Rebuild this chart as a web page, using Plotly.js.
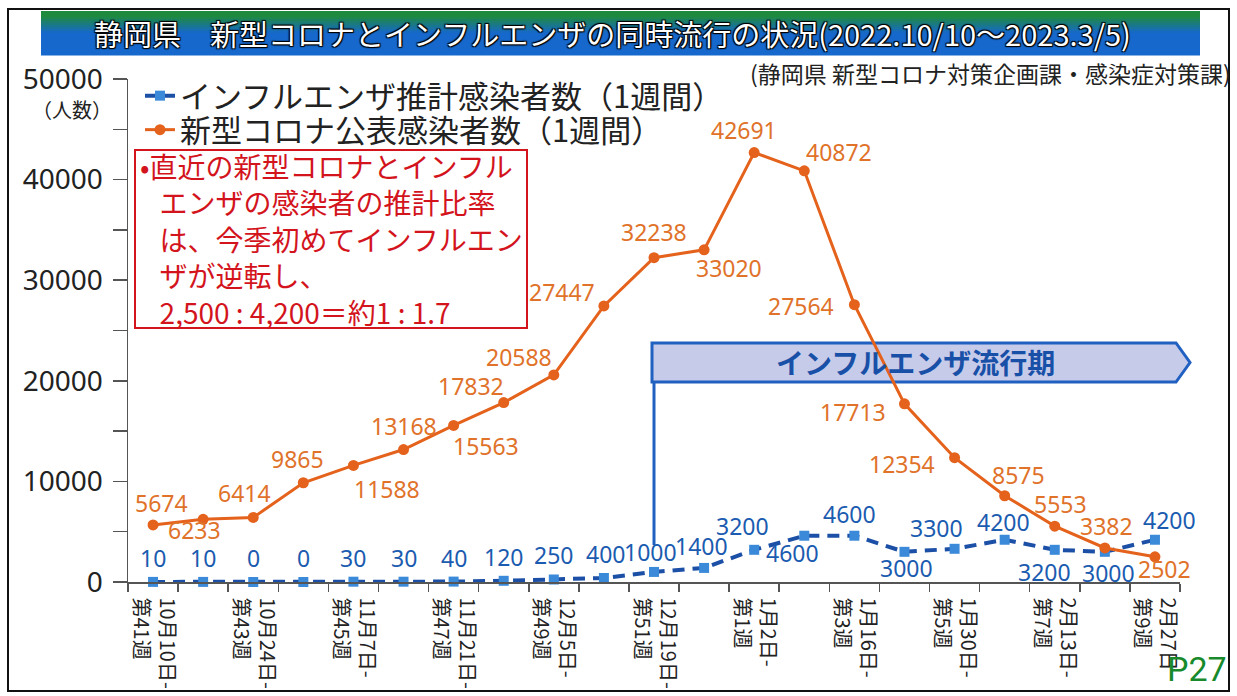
<!DOCTYPE html>
<html><head><meta charset="utf-8">
<script src="https://cdn.plot.ly/plotly-3.0.1.min.js"></script>
<style>html,body{margin:0;padding:0;background:#fff}</style>
</head><body><div id="chart" style="width:1237px;height:696px"></div>
<script>
// ---- data ----
const weeks = ['第41週','第42週','第43週','第44週','第45週','第46週','第47週','第48週','第49週','第50週','第51週','第52週','第1週','第2週','第3週','第4週','第5週','第6週','第7週','第8週','第9週'];
const weekStartDates = ['10月10日','10月17日','10月24日','10月31日','11月7日','11月14日','11月21日','11月28日','12月5日','12月12日','12月19日','12月26日','1月2日','1月9日','1月16日','1月23日','1月30日','2月6日','2月13日','2月20日','2月27日'];
const fluEstimated = [10,10,0,0,30,30,40,120,250,400,1000,1400,3200,4600,4600,3000,3300,4200,3200,3000,4200];
const covidReported = [5674,6233,6414,9865,11588,13168,15563,17832,20588,27447,32238,33020,42691,40872,27564,17713,12354,8575,5553,3382,2502];
const fluName = 'インフルエンザ推計感染者数（1週間）';
const covidName = '新型コロナ公表感染者数（1週間）';
const fluPeriodStartWeek = 10;

// ---- label offsets (style only, px: [dx, dyUp]) ----
const covidLabelOffsets = [[8,22],[-9,-11],[-9,24],[-6,24],[34,-24],[0,24],[32,-21],[-33,17],[-35,18],[-42,14],[0,26],[25,-18],[-10,23],[35,19],[-53,-1],[-51,-8],[-53,-6],[14,21],[6,22],[2,22],[10,-12]];
const fluLabelOffsets = [[0,24],[0,24],[0,24],[0,24],[0,24],[0,24],[0,24],[0,24],[0,24],[2,24],[-4,20],[-3,22],[-12,24],[-12,-17],[-5,22],[2,-16],[-18,21],[-1,18],[-10,-22],[4,-21],[15,20]];

// ---- geometry helpers (pixel -> paper) ----
const L = 128, T = 79, W = 1052, H = 503;
const px = x => (x - L) / W;
const py = y => (T + H - y) / H;

const idx = weeks.map((_, i) => i);
const tickIdx = idx.filter(i => i % 2 === 0);
const tickText = tickIdx.map(i => weekStartDates[i] + (i < weeks.length - 1 ? '-' : '') + '<br>' + weeks[i]);

const FONT = '"Noto Sans CJK JP", "Noto Sans", sans-serif';
const NUMFONT = '"Noto Sans", "Noto Sans CJK JP", sans-serif';
const ORANGE = '#e4621c', ORANGE_T = '#e0722a';
const BLUE_L = '#1c4fa6', BLUE_M = '#3b8ad9', BLUE_T = '#1b5bb0';

const traces = [
  { x: idx, y: fluEstimated, name: fluName, type: 'scatter', mode: 'lines+markers', legend: 'legend',
    line: { color: BLUE_L, width: 4, dash: '12px,8px' },
    marker: { symbol: 'square', size: 10, color: BLUE_M }, cliponaxis: false, hoverinfo: 'skip' },
  { x: idx, y: covidReported, name: covidName, type: 'scatter', mode: 'lines+markers', legend: 'legend2',
    line: { color: ORANGE, width: 3 },
    marker: { symbol: 'circle', size: 11, color: ORANGE }, cliponaxis: false, hoverinfo: 'skip' }
];

const annotations = [];
covidReported.forEach((v, i) => annotations.push({ x: i, y: v, xref: 'x', yref: 'y', text: String(v), showarrow: false,
  xanchor: 'center', yanchor: 'middle',
  xshift: covidLabelOffsets[i][0], yshift: covidLabelOffsets[i][1], font: { family: NUMFONT, size: 23, color: ORANGE_T } }));
fluEstimated.forEach((v, i) => annotations.push({ x: i, y: v, xref: 'x', yref: 'y', text: String(v), showarrow: false,
  xanchor: 'center', yanchor: 'middle',
  xshift: fluLabelOffsets[i][0], yshift: fluLabelOffsets[i][1], font: { family: NUMFONT, size: 23, color: BLUE_T } }));

const A = (x, y, text, font, xa, ya, align) => annotations.push({ xref: 'paper', yref: 'paper', x: px(x), y: py(y), text, showarrow: false,
  xanchor: xa || 'center', yanchor: ya || 'middle', align: align || 'center', font });

// title, source, unit, note, banner, page number
A(612, 33, '静岡県　新型コロナとインフルエンザの同時流行の状況(2022.10/10～2023.3/5)',
  { family: FONT, size: 29, color: '#ffffff', shadow: '1px 1px 1px #000, -1px -1px 1px #000, 1px -1px 1px #000, -1px 1px 1px #000' });
A(1233, 73, '(静岡県 新型コロナ対策企画課・感染症対策課)', { family: FONT, size: 23, color: '#222' }, 'right');
A(72, 109, '（人数）', { family: FONT, size: 20, color: '#222' });
const noteLines = ['•直近の新型コロナとインフル', 'エンザの感染者の推計比率', 'は、今季初めてインフルエン', 'ザが逆転し、', '2,500 : 4,200＝約1 : 1.7'];
const indent = '\u2002\u2009';
A(138, 239, noteLines.map((t, k) => (k === 0 ? '' : indent) + t).join('<br>'),
  { family: FONT, size: 28, color: '#d3141d' }, 'left', 'middle', 'left');
A(915, 362, '<b>インフルエンザ流行期</b>', { family: FONT, size: 28, color: '#1850a8' });
A(1229, 691, 'P27', { family: '"Liberation Sans Narrow", Roboto, sans-serif', size: 34, color: '#188a2c' }, 'right', 'bottom');

const shapes = [];
// border
shapes.push({ type: 'rect', xref: 'paper', yref: 'paper', x0: px(8), x1: px(1229), y0: py(9), y1: py(691), line: { color: '#111', width: 2 }, layer: 'below' });
// title bar gradient
const green = [30, 138, 62], blue = [22, 104, 204];
const N = 22, bTop = 11, bBot = 55;
for (let k = 0; k < N; k++) {
  const t = (k + 0.5) / N;
  const m = Math.min(1, Math.max(0, (t - 0.12) / 0.38));
  const c = green.map((g, j) => Math.round(g + (blue[j] - g) * m));
  const y0 = bTop + (bBot - bTop) * k / N, y1 = bTop + (bBot - bTop) * (k + 1) / N + 0.6;
  shapes.push({ type: 'rect', xref: 'paper', yref: 'paper', x0: px(41), x1: px(1200), y0: py(y0), y1: py(y1),
    fillcolor: `rgb(${c[0]},${c[1]},${c[2]})`, line: { width: 0 }, layer: 'below' });
}
// note box
shapes.push({ type: 'rect', xref: 'paper', yref: 'paper', x0: px(135), x1: px(527), y0: py(150), y1: py(328), line: { color: '#d3141d', width: 2 }, fillcolor: 'rgba(255,255,255,0)' });
// flu period banner
const bx0 = 652, bx1 = 1176, bxt = 1190, by0 = 343, by1 = 382;
shapes.push({ type: 'path', xref: 'paper', yref: 'paper',
  path: `M ${px(bx0)} ${py(by0)} L ${px(bx1)} ${py(by0)} L ${px(bxt)} ${py((by0 + by1) / 2)} L ${px(bx1)} ${py(by1)} L ${px(bx0)} ${py(by1)} Z`,
  fillcolor: '#c7cbea', line: { color: '#2060c0', width: 3 }, layer: 'below' });
shapes.push({ type: 'line', xref: 'x', yref: 'paper', x0: fluPeriodStartWeek, x1: fluPeriodStartWeek, y0: py(by1), y1: py(545),
  line: { color: '#2060c0', width: 3 }, layer: 'below' });

const legendBase = { x: px(140), xanchor: 'left', yanchor: 'middle', bgcolor: 'rgba(0,0,0,0)', font: { family: FONT, size: 31, color: '#222' },
  itemwidth: 30, tracegroupgap: 0 };

const layout = {
  width: 1237, height: 696,
  margin: { l: L, r: 1237 - L - W, t: T, b: 696 - T - H, pad: 0 },
  paper_bgcolor: '#ffffff', plot_bgcolor: 'rgba(0,0,0,0)',
  font: { family: FONT, color: '#222' },
  showlegend: true,
  legend: Object.assign({}, legendBase, { y: py(96) }),
  legend2: Object.assign({}, legendBase, { y: py(130) }),
  xaxis: { range: [-0.5, 20.5], showgrid: false, zeroline: false, showline: true, linecolor: '#555', linewidth: 1.5,
    tickmode: 'array', tickvals: tickIdx, ticktext: tickText, ticks: '', tickangle: 90, ticklabelstandoff: 10,
    tickfont: { family: FONT, size: 20, color: '#222' },
    minor: { tickmode: 'linear', tick0: 0.5, dtick: 1, ticks: 'outside', ticklen: 8, tickcolor: '#555', tickwidth: 1.5, showgrid: false } },
  yaxis: { range: [0, 50000], showgrid: false, zeroline: false, showline: true, linecolor: '#555', linewidth: 1.5,
    tickmode: 'linear', tick0: 0, dtick: 10000, tickformat: 'd', ticks: 'outside', ticklen: 14, tickcolor: '#555', tickwidth: 1.5, ticklabelstandoff: 4,
    tickfont: { family: NUMFONT, size: 28, color: '#222' },
    minor: { tickmode: 'linear', tick0: 0, dtick: 5000, ticks: 'outside', ticklen: 14, tickcolor: '#555', tickwidth: 1.5, showgrid: false } },
  annotations, shapes
};

Plotly.newPlot('chart', traces, layout, { staticPlot: true, displayModeBar: false });
</script>
</body></html>
